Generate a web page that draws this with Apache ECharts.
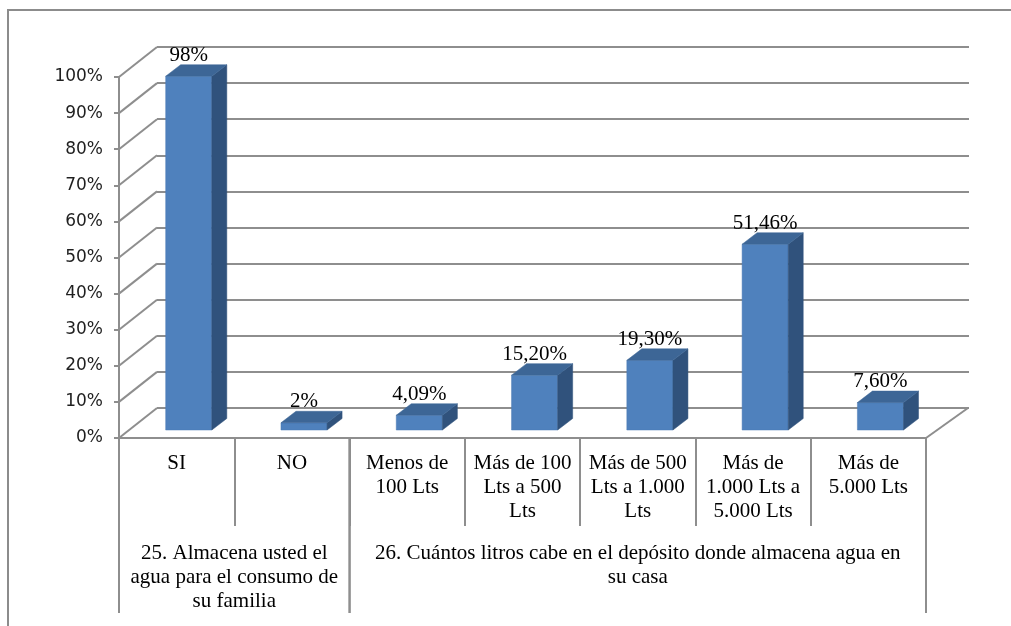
<!DOCTYPE html>
<html>
<head>
<meta charset="utf-8">
<script src="https://cdn.jsdelivr.net/npm/echarts@6/dist/echarts.min.js"></script>
<style>
  html, body { margin: 0; padding: 0; background: #ffffff; }
  #chart { width: 1011px; height: 626px; }
</style>
</head>
<body>
<div id="chart"></div>
<script>
// ---- data ----
const categories = [
  'SI',
  'NO',
  'Menos de\n100 Lts',
  'Más de 100\nLts a 500\nLts',
  'Más de 500\nLts a 1.000\nLts',
  'Más de\n1.000 Lts a\n5.000 Lts',
  'Más de\n5.000 Lts'
];
const values = [98, 2, 4.09, 15.20, 19.30, 51.46, 7.60];
const valueLabels = ['98%', '2%', '4,09%', '15,20%', '19,30%', '51,46%', '7,60%'];
const groupLabels = [
  '25. Almacena usted el\nagua para el consumo de\nsu familia',
  '26. Cuántos litros cabe en el depósito donde almacena agua en\nsu casa'
];
const groupStart = [0, 2];
const groupEnd = [1, 6];
const yTicks = [0, 10, 20, 30, 40, 50, 60, 70, 80, 90, 100];

// ---- style constants ----
const GRID_COLOR = '#8e8e8e';
const SERIF = '"Liberation Serif", "Times New Roman", serif';
const DEPTH_X = 39, DEPTH_Y = -30;     // back-wall offset
const BAR_DX = 15, BAR_DY = -11.5, BAR_LIFT = 8;

const chart = echarts.init(document.getElementById('chart'), null, { renderer: 'canvas' });

const option = {
  backgroundColor: '#ffffff',
  animation: false,
  graphic: [{
    type: 'rect',
    shape: { x: 8, y: 10, width: 1030, height: 650 },
    style: { fill: 'none', stroke: '#8c8c8c', lineWidth: 2 },
    silent: true, z: -10
  }],
  grid: [
    { left: 119, right: 85, top: 77, bottom: 188 },
    { left: 157, right: 42, top: 47, bottom: 218 }
  ],
  xAxis: [
    {
      type: 'category', gridIndex: 0, data: categories,
      axisLine: { show: true, lineStyle: { color: GRID_COLOR, width: 2 } },
      axisTick: { show: true, interval: 0, length: 88, lineStyle: { color: GRID_COLOR, width: 2 } },
      axisLabel: {
        interval: 0, margin: 13, color: '#000', fontFamily: SERIF, fontSize: 21, lineHeight: 24
      },
      z: 5
    },
    { type: 'category', gridIndex: 1, data: categories, show: false }
  ],
  yAxis: [
    {
      type: 'value', gridIndex: 0, min: 0, max: 100, interval: 10,
      axisLine: { show: true, lineStyle: { color: GRID_COLOR, width: 2 } },
      axisTick: { show: true, length: 5, lineStyle: { color: GRID_COLOR, width: 2 } },
      axisLabel: { formatter: '{value}%', margin: 16, color: '#1f1f1f', fontFamily: '"DejaVu Sans", Verdana, sans-serif', fontSize: 17 },
      splitLine: { show: false }
    },
    {
      type: 'value', gridIndex: 1, min: 0, max: 100, interval: 10,
      axisLine: { show: false }, axisTick: { show: false }, axisLabel: { show: false },
      splitLine: { show: true, lineStyle: { color: GRID_COLOR, width: 2 } }
    }
  ],
  series: [
    // left wall diagonals + floor right edge
    {
      type: 'custom', xAxisIndex: 0, yAxisIndex: 0, clip: false, z: 1,
      data: yTicks.map(v => [0, v]),
      renderItem: function (params, api) {
        const band = api.size([1, 0])[0];
        const p = api.coord([0, api.value(1)]);
        const x0 = p[0] - band / 2;
        const children = [{
          type: 'line',
          shape: { x1: x0, y1: p[1], x2: x0 + DEPTH_X - 1, y2: p[1] + DEPTH_Y },
          style: { stroke: GRID_COLOR, lineWidth: 2 }
        }];
        if (api.value(1) === 0) {
          const pr = api.coord([categories.length - 1, 0]);
          const xr = pr[0] + band / 2;
          children.push({
            type: 'line',
            shape: { x1: xr, y1: pr[1], x2: xr + DEPTH_X + 3, y2: pr[1] + DEPTH_Y },
            style: { stroke: GRID_COLOR, lineWidth: 2 }
          });
        }
        return { type: 'group', children: children };
      }
    },
    // group dividers and group labels
    {
      type: 'custom', xAxisIndex: 0, yAxisIndex: 0, clip: false, z: 6,
      data: groupLabels.map((g, i) => [groupStart[i], groupEnd[i], i]),
      renderItem: function (params, api) {
        const band = api.size([1, 0])[0];
        const i = api.value(2);
        const pl = api.coord([api.value(0), 0]);
        const pr = api.coord([api.value(1), 0]);
        const xl = pl[0] - band / 2, xr = pr[0] + band / 2;
        const y0 = pl[1];
        const children = [
          { type: 'line', shape: { x1: xl, y1: y0, x2: xl, y2: y0 + 175 }, style: { stroke: GRID_COLOR, lineWidth: 2 } },
          { type: 'line', shape: { x1: xr, y1: y0, x2: xr, y2: y0 + 175 }, style: { stroke: GRID_COLOR, lineWidth: 2 } },
          {
            type: 'text',
            style: {
              text: groupLabels[i], x: (xl + xr) / 2, y: y0 + 103,
              textAlign: 'center', textVerticalAlign: 'top',
              fill: '#000', font: '21px ' + SERIF, lineHeight: 24
            }
          }
        ];
        return { type: 'group', children: children };
      }
    },
    // 3D bars
    {
      type: 'custom', xAxisIndex: 0, yAxisIndex: 0, clip: false, z: 10,
      data: values.map((v, i) => [i, v]),
      renderItem: function (params, api) {
        const band = api.size([1, 0])[0];
        const base = api.coord([api.value(0), 0]);
        const top = api.coord([api.value(0), api.value(1)]);
        const w = band * 0.40;
        const fx0 = base[0] - band * 0.095;
        const fx1 = fx0 + w;
        const by = base[1] - BAR_LIFT;
        const ty = top[1] - BAR_LIFT;
        return {
          type: 'group',
          children: [
            { type: 'rect', shape: { x: fx0, y: ty, width: w, height: by - ty },
              style: { fill: '#4F81BD', stroke: '#4a7ab4', lineWidth: 0.5 } },
            { type: 'polygon', shape: { points: [[fx1, by], [fx1, ty], [fx1 + BAR_DX, ty + BAR_DY], [fx1 + BAR_DX, by + BAR_DY]] },
              style: { fill: '#30527C', stroke: '#30527C', lineWidth: 0.5 } },
            { type: 'polygon', shape: { points: [[fx0, ty], [fx1, ty], [fx1 + BAR_DX, ty + BAR_DY], [fx0 + BAR_DX, ty + BAR_DY]] },
              style: { fill: '#3D6696', stroke: '#3D6696', lineWidth: 0.5 } },
            { type: 'text',
              style: { text: valueLabels[params.dataIndex], x: fx0 + w / 2, y: ty + BAR_DY + 1,
                textAlign: 'center', textVerticalAlign: 'bottom', fill: '#000', font: '21px ' + SERIF } }
          ]
        };
      }
    }
  ]
};
chart.setOption(option);
</script>
</body>
</html>
